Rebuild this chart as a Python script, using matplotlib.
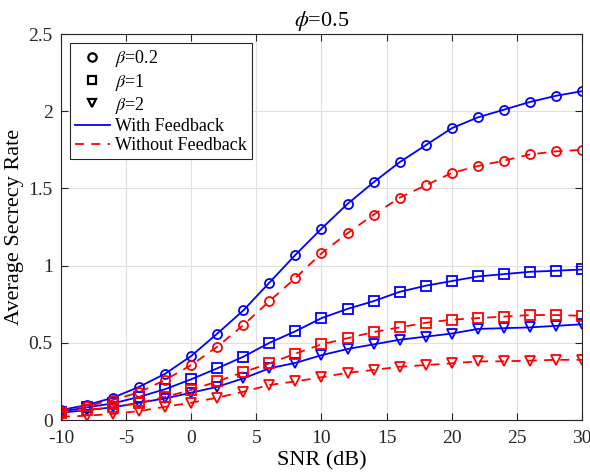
import matplotlib
matplotlib.use("Agg")
import matplotlib.pyplot as plt
from matplotlib.lines import Line2D

plt.rcParams["font.family"] = ["Liberation Serif", "DejaVu Serif"]
plt.rcParams["mathtext.fontset"] = "stix"
plt.rcParams["axes.unicode_minus"] = False

snr = list(range(-10, 31, 2))

# with feedback (blue, solid)
fb_b02 = [0.065, 0.097, 0.145, 0.215, 0.30, 0.415, 0.56, 0.71, 0.89, 1.07, 1.24,
          1.40, 1.54, 1.67, 1.78, 1.89, 1.96, 2.01, 2.06, 2.10, 2.13]
fb_b1 = [0.055, 0.082, 0.108, 0.15, 0.20, 0.264, 0.335, 0.41, 0.50, 0.575, 0.66,
         0.72, 0.77, 0.83, 0.87, 0.90, 0.93, 0.945, 0.96, 0.967, 0.975]
fb_b2 = [0.047, 0.065, 0.082, 0.112, 0.14, 0.177, 0.215, 0.27, 0.335, 0.37, 0.42,
         0.46, 0.49, 0.52, 0.54, 0.56, 0.59, 0.595, 0.60, 0.61, 0.62]

# without feedback (red, dashed)
nf_b02 = [0.06, 0.09, 0.13, 0.18, 0.26, 0.356, 0.475, 0.615, 0.77, 0.92, 1.08,
          1.21, 1.33, 1.44, 1.52, 1.60, 1.645, 1.68, 1.72, 1.74, 1.75]
nf_b1 = [0.047, 0.065, 0.082, 0.11, 0.15, 0.195, 0.25, 0.31, 0.367, 0.43, 0.49,
         0.53, 0.57, 0.60, 0.63, 0.65, 0.66, 0.67, 0.68, 0.68, 0.675]
nf_b2 = [0.021, 0.028, 0.04, 0.058, 0.086, 0.112, 0.145, 0.183, 0.227, 0.25, 0.277,
         0.306, 0.324, 0.345, 0.356, 0.367, 0.38, 0.38, 0.385, 0.39, 0.39]

fig = plt.figure(figsize=(5.9, 4.73), dpi=100)
ax = fig.add_axes([0.1034, 0.112, 0.8830, 0.816])

style = dict(markersize=6.5, markerfacecolor="none", markeredgewidth=1.3, linewidth=1.3)
for ys, m in ((fb_b02, "o"), (fb_b1, "s"), (fb_b2, "v")):
    ax.plot(snr, ys, color="#0000ff", ls="-", marker=m, **style)
for ys, m in ((nf_b02, "o"), (nf_b1, "s"), (nf_b2, "v")):
    ax.plot(snr, ys, color="#ff0000", ls=(0, (5, 4)), marker=m, **style)

ax.set_xlim(-10, 30)
ax.set_ylim(0, 2.5)
ax.set_xticks(range(-10, 31, 5))
ax.set_yticks([0, 0.5, 1, 1.5, 2, 2.5])
ax.set_yticklabels(["0", "0.5", "1", "1.5", "2", "2.5"])
ax.grid(color="#e0e0e0", linewidth=0.8)
ax.set_axisbelow(True)
ax.tick_params(direction="in", top=True, right=True, labelsize=14, length=5,
               color="#262626", labelcolor="#262626")
ax.tick_params(axis="x", pad=7)
ax.tick_params(axis="y", pad=6)
for s in ax.spines.values():
    s.set_color("#262626")
    s.set_linewidth(0.8)

ax.set_xlabel("SNR (dB)", fontsize=16, labelpad=3)
ax.set_ylabel("Average Secrecy Rate", fontsize=16, labelpad=3)
ax.set_title(r"$\phi$=0.5", fontsize=16, pad=6)

mk = dict(color="k", ls="none", markerfacecolor="none", markersize=6, markeredgewidth=1.6)
handles = [
    Line2D([], [], marker="o", **mk),
    Line2D([], [], marker="s", **mk),
    Line2D([], [], marker="v", **mk),
    Line2D([], [], color="#0000ff", ls="-", lw=1.3),
    Line2D([], [], color="#ff0000", ls=(0, (5, 4)), lw=1.3),
]
labels = [r"$\beta$=0.2", r"$\beta$=1", r"$\beta$=2", "With Feedback", "Without Feedback"]
leg = ax.legend(handles, labels, loc="upper left", bbox_to_anchor=(0.017, 0.977),
                fontsize=13, handlelength=1.9, handletextpad=0.3, labelspacing=0.12,
                borderpad=0.3, borderaxespad=0, fancybox=False, framealpha=1,
                edgecolor="#262626")
leg.get_frame().set_linewidth(0.8)

fig.savefig("out.png", dpi=100)
